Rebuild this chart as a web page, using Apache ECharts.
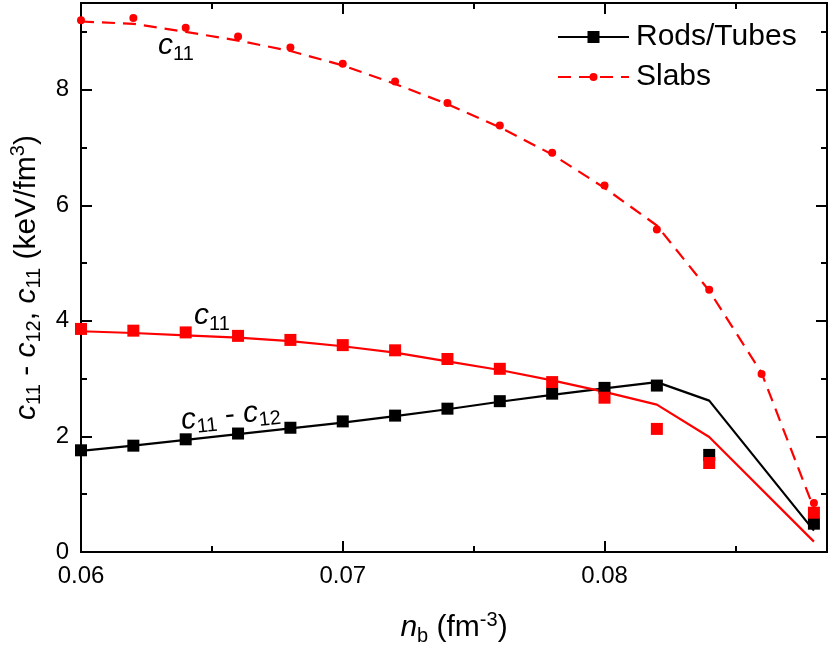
<!DOCTYPE html>
<html><head><meta charset="utf-8">
<script src="https://cdn.jsdelivr.net/npm/echarts@6/dist/echarts.min.js"></script>
<style>html,body{margin:0;padding:0;background:#fff}#c{width:830px;height:651px}</style>
</head><body><div id="c"></div>
<script>
// ---- data ----
const nbRods = [0.060,0.062,0.064,0.066,0.068,0.070,0.072,0.074,0.076,0.078,0.080,0.082,0.084,0.088];
const rodsDiffPts  = [1.76,1.84,1.95,2.05,2.15,2.26,2.36,2.48,2.61,2.74,2.84,2.88,1.68,0.49];
const rodsDiffLine = [1.75,1.84,1.94,2.04,2.14,2.24,2.35,2.47,2.60,2.72,2.83,2.94,2.62,0.37];
const rodsC11Pts   = [3.86,3.83,3.80,3.74,3.67,3.58,3.49,3.34,3.17,2.94,2.67,2.13,1.54,0.68];
const rodsC11Line  = [3.82,3.79,3.75,3.71,3.65,3.56,3.45,3.30,3.15,2.97,2.77,2.55,1.99,0.18];
const nbSlabs = [0.060,0.062,0.064,0.066,0.068,0.070,0.072,0.074,0.076,0.078,0.080,0.082,0.084,0.086,0.088];
const slabC11Pts  = [9.20,9.24,9.07,8.92,8.73,8.45,8.14,7.77,7.38,6.91,6.34,5.58,4.54,3.08,0.85];
const slabC11Line = [9.18,9.14,9.00,8.85,8.67,8.42,8.10,7.75,7.35,6.88,6.30,5.65,4.52,3.10,0.75];
const legendNames = ['Rods/Tubes','Slabs'];

const FF = "'Liberation Sans', Arial, Helvetica, sans-serif";
const zip = (xs, ys) => xs.map((x, i) => [x, ys[i]]);

const chart = echarts.init(document.getElementById('c'), null, {renderer: 'canvas'});

const XMIN = 0.06, XMAX = 0.0885, YMIN = 0, YMAX = 9.5;
const lineBlack = {color: '#000', width: 2};
function xAx(pos, interval, len, labels, extra) {
  return Object.assign({
    type: 'value', position: pos, min: XMIN, max: XMAX, interval: interval,
    axisLine: {show: true, onZero: false, lineStyle: lineBlack},
    axisTick: {show: true, inside: true, length: len, lineStyle: {color: '#000', width: 2}},
    axisLabel: {show: labels, color: '#000', fontSize: 24, fontFamily: FF, margin: 12,
      showMaxLabel: false, formatter: v => v.toFixed(2)},
    splitLine: {show: false}
  }, extra || {});
}
function yAx(pos, interval, len, labels, extra) {
  return Object.assign({
    type: 'value', position: pos, min: YMIN, max: YMAX, interval: interval,
    axisLine: {show: true, onZero: false, lineStyle: lineBlack},
    axisTick: {show: true, inside: true, length: len, lineStyle: {color: '#000', width: 2}},
    axisLabel: {show: labels, color: '#000', fontSize: 24, fontFamily: FF, margin: 12,
      showMaxLabel: false, formatter: v => String(v)},
    splitLine: {show: false}
  }, extra || {});
}
const rich = {
  i: {fontStyle: 'italic', fontSize: 30, lineHeight: 36, fontFamily: FF, color: '#000'},
  t: {fontSize: 30, lineHeight: 36, fontFamily: FF, color: '#000'},
  s: {fontSize: 20, lineHeight: 20, fontFamily: FF, color: '#000', verticalAlign: 'bottom'},
  p: {fontSize: 20, lineHeight: 20, fontFamily: FF, color: '#000', verticalAlign: 'top'}
};

const option = {
  animation: false,
  backgroundColor: '#fff',
  grid: {left: 81, right: 3, top: 3, bottom: 99, containLabel: false, outerBoundsMode: 'none'},
  legend: [
    {data: [legendNames[0]], left: 552, top: 17, itemWidth: 71, itemHeight: 15, orient: 'vertical',
     textStyle: {fontSize: 30, fontFamily: FF, color: '#000', padding: [0,0,0,2]}, selectedMode: false},
    {data: [legendNames[1]], left: 552, top: 57, itemWidth: 71, itemHeight: 10, orient: 'vertical',
     textStyle: {fontSize: 30, fontFamily: FF, color: '#000', padding: [0,0,0,2]}, selectedMode: false}
  ],
  xAxis: [
    xAx('bottom', 0.01, 11, true, {
      name: '{i|n}{s|b}{t| (fm}{p|-3}{t|)}', nameLocation: 'middle', nameGap: 58,
      nameTextStyle: {rich: rich}
    }),
    xAx('bottom', 0.005, 6, false),
    xAx('top', 0.01, 11, false),
    xAx('top', 0.005, 6, false)
  ],
  yAxis: [
    yAx('left', 2, 11, true, {
      name: '{i|c}{s|11}{t| - }{i|c}{s|12}{t|, }{i|c}{s|11}{t| (keV/fm}{p|3}{t|)}',
      nameLocation: 'middle', nameGap: 34, nameRotate: 90,
      nameTextStyle: {rich: rich}
    }),
    yAx('left', 1, 6, false),
    yAx('right', 2, 11, false),
    yAx('right', 1, 6, false)
  ],
  series: [
    {name: legendNames[0], type: 'line', data: zip(nbRods, rodsDiffLine), showSymbol: false,
     symbol: 'rect', lineStyle: {color: '#000', width: 2.2}, itemStyle: {color: '#000', opacity: 1}, z: 2, silent: true},
    {name: 'rodsC11Line', type: 'line', data: zip(nbRods, rodsC11Line), showSymbol: false,
     symbol: 'rect', lineStyle: {color: '#ff0000', width: 2.2}, itemStyle: {color: '#ff0000', opacity: 1}, z: 2, silent: true},
    {name: legendNames[1], type: 'line', data: zip(nbSlabs, slabC11Line), showSymbol: false,
     symbol: 'circle', lineStyle: {color: '#ff0000', width: 2.2, type: [13, 8]}, itemStyle: {color: '#ff0000', opacity: 1}, z: 2, silent: true},
    {name: 'rodsDiffPts', type: 'scatter', data: zip(nbRods, rodsDiffPts), symbol: 'rect', symbolSize: 12,
     itemStyle: {color: '#000', opacity: 1}, z: 3, silent: true},
    {name: 'rodsC11Pts', type: 'scatter', data: zip(nbRods, rodsC11Pts), symbol: 'rect', symbolSize: 12,
     itemStyle: {color: '#ff0000', opacity: 1}, z: 4, silent: true},
    {name: 'slabC11Pts', type: 'scatter', data: zip(nbSlabs, slabC11Pts), symbol: 'circle', symbolSize: 8,
     itemStyle: {color: '#ff0000', opacity: 1}, z: 5, silent: true}
  ],
  graphic: [
    {type: 'text', x: 158, y: 46, style: {text: '{i|c}{s|11}', rich: rich, verticalAlign: 'middle'}},
    {type: 'text', x: 194, y: 316, style: {text: '{i|c}{s|11}', rich: rich, verticalAlign: 'middle'}},
    {type: 'text', x: 181, y: 421, rotation: 0.11, style: {text: '{i|c}{s|11}{t| - }{i|c}{s|12}', rich: rich, verticalAlign: 'middle'}}
  ]
};
chart.setOption(option);
</script></body></html>
